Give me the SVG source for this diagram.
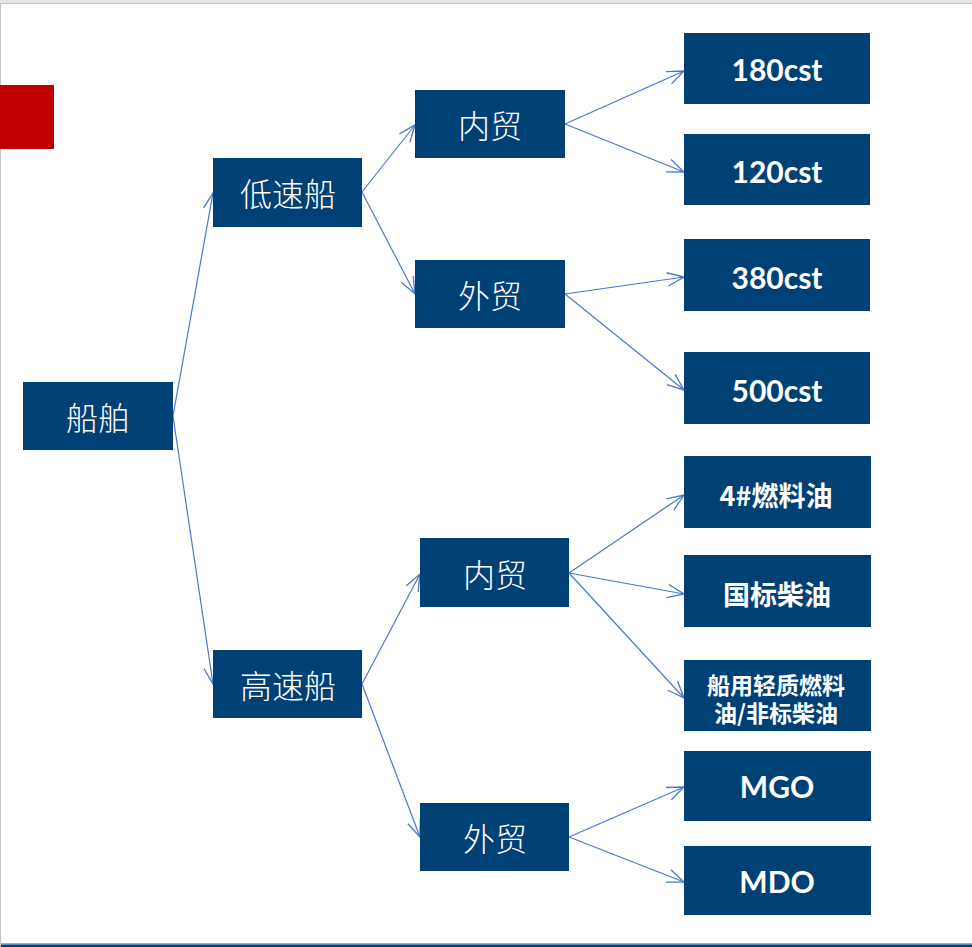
<svg xmlns="http://www.w3.org/2000/svg" width="972" height="947" viewBox="0 0 972 947">
<style>
.box{fill:#004175}
.t1{font-family:"Noto Sans CJK SC","Noto Sans",sans-serif;font-weight:300;font-size:32px;fill:#fff;text-anchor:middle;dominant-baseline:central}
.t2{font-family:Lato,"Noto Sans CJK SC",sans-serif;font-weight:bold;font-size:30px;fill:#fff;text-anchor:middle;dominant-baseline:central}
.t3{font-family:"Noto Sans CJK SC",sans-serif;font-weight:bold;font-size:27px;fill:#fff;text-anchor:middle;dominant-baseline:central}
.t4{font-family:"Noto Sans CJK SC",sans-serif;font-weight:bold;font-size:23px;fill:#fff;text-anchor:middle;dominant-baseline:central}
.c{stroke:#4A78CC;stroke-width:1.2;fill:none;marker-end:url(#ah)}
</style>
<defs>
<marker id="ah" markerUnits="userSpaceOnUse" markerWidth="20" markerHeight="20" viewBox="-16 -8 18 16" refX="0" refY="0" orient="auto">
<path d="M-15,-6 L0,0 L-15,6" fill="none" stroke="#4A78CC" stroke-width="1.2"/>
</marker>
</defs>
<rect x="0" y="0" width="972" height="947" fill="#fff"/>
<rect x="0" y="0" width="972" height="3" fill="#e4e4e4"/>
<line x1="0" y1="3.5" x2="972" y2="3.5" stroke="#c4c4c4" stroke-width="1"/>
<line x1="0.5" y1="3" x2="0.5" y2="947" stroke="#c4c4c4" stroke-width="1"/>
<rect x="1" y="943" width="971" height="1.5" fill="#9bb0c8"/>
<rect x="1" y="944.5" width="971" height="2.5" fill="#003f73"/>
<rect x="0" y="85" width="54" height="64" fill="#C00000"/>
<g id="connectors">
<line class="c" x1="173" y1="416" x2="213" y2="193"/>
<line class="c" x1="173" y1="416" x2="213" y2="684"/>
<line class="c" x1="362" y1="192" x2="415" y2="125"/>
<line class="c" x1="362" y1="192" x2="415" y2="294"/>
<line class="c" x1="362" y1="684" x2="420" y2="574"/>
<line class="c" x1="362" y1="684" x2="420" y2="837"/>
<line class="c" x1="565" y1="124" x2="684" y2="71"/>
<line class="c" x1="565" y1="124" x2="684" y2="172"/>
<line class="c" x1="565" y1="294" x2="684" y2="277"/>
<line class="c" x1="565" y1="294" x2="684" y2="390"/>
<line class="c" x1="569" y1="573" x2="684" y2="495"/>
<line class="c" x1="569" y1="573" x2="684" y2="594"/>
<line class="c" x1="569" y1="573" x2="684" y2="698"/>
<line class="c" x1="569" y1="837" x2="684" y2="787"/>
<line class="c" x1="569" y1="837" x2="684" y2="882"/>
</g>
<g id="n-chuanbo"><rect class="box" x="23" y="382" width="150" height="68"/><text class="t1" x="98" y="416">船舶</text></g>
<g id="n-disuchuan"><rect class="box" x="213" y="158" width="149" height="69"/><text class="t1" x="288" y="192">低速船</text></g>
<g id="n-gaosuchuan"><rect class="box" x="213" y="650" width="149" height="68"/><text class="t1" x="288" y="684">高速船</text></g>
<g id="n-neimao1"><rect class="box" x="415" y="90" width="150" height="68"/><text class="t1" x="490" y="124">内贸</text></g>
<g id="n-waimao1"><rect class="box" x="415" y="260" width="150" height="68"/><text class="t1" x="490" y="294">外贸</text></g>
<g id="n-neimao2"><rect class="box" x="420" y="538" width="149" height="69"/><text class="t1" x="495" y="573">内贸</text></g>
<g id="n-waimao2"><rect class="box" x="420" y="803" width="149" height="68"/><text class="t1" x="495" y="837">外贸</text></g>
<g id="n-180"><rect class="box" x="684" y="33" width="186" height="71"/><text class="t2" x="777" y="69">180cst</text></g>
<g id="n-120"><rect class="box" x="684" y="134" width="186" height="71"/><text class="t2" x="777" y="171">120cst</text></g>
<g id="n-380"><rect class="box" x="684" y="239" width="186" height="72"/><text class="t2" x="777" y="277">380cst</text></g>
<g id="n-500"><rect class="box" x="684" y="352" width="186" height="72"/><text class="t2" x="777" y="390">500cst</text></g>
<g id="n-4"><rect class="box" x="684" y="456" width="187" height="72"/><text class="t3" x="776" y="494">4#燃料油</text></g>
<g id="n-guobiao"><rect class="box" x="684" y="555" width="187" height="72"/><text class="t3" x="777" y="593">国标柴油</text></g>
<g id="n-qingzhi"><rect class="box" x="684" y="660" width="187" height="71"/><text class="t4"><tspan x="776" y="684">船用轻质燃料</tspan><tspan x="776" y="712">油/非标柴油</tspan></text></g>
<g id="n-mgo"><rect class="box" x="684" y="751" width="187" height="70"/><text class="t2" x="777" y="786">MGO</text></g>
<g id="n-mdo"><rect class="box" x="684" y="846" width="187" height="69"/><text class="t2" x="777" y="881">MDO</text></g>
</svg>
